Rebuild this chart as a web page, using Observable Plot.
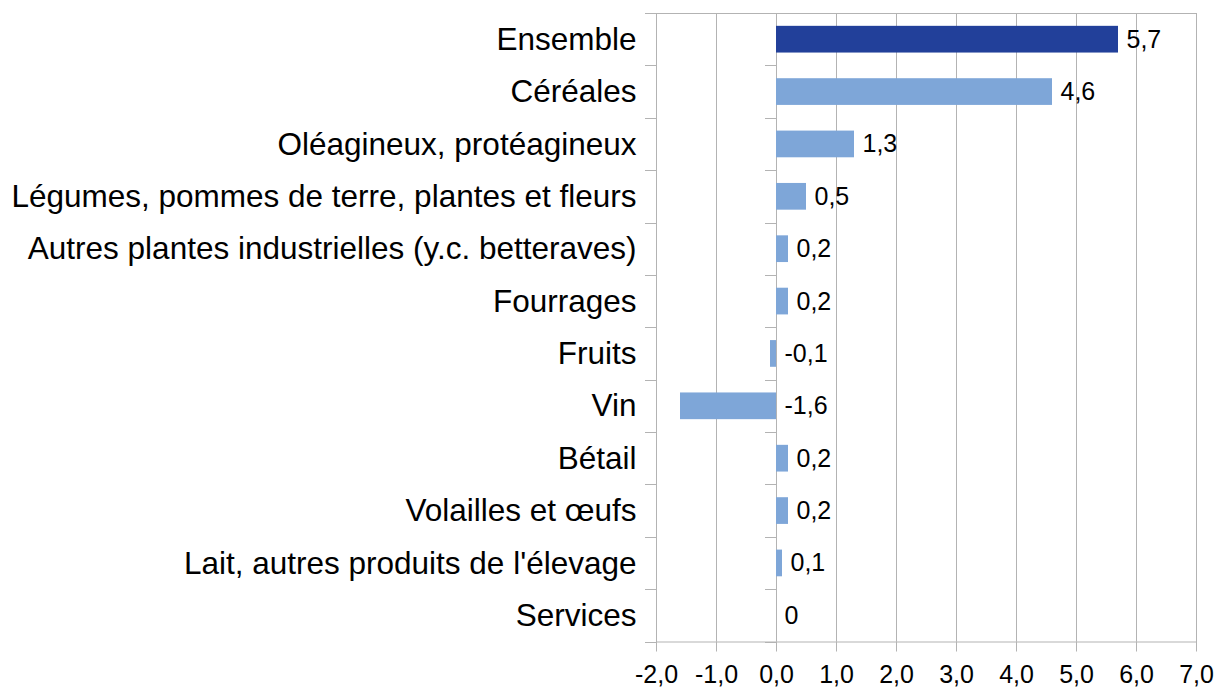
<!DOCTYPE html>
<html><head><meta charset="utf-8">
<script src="https://cdn.jsdelivr.net/npm/d3@7"></script>
<script src="https://cdn.jsdelivr.net/npm/@observablehq/plot@0.6"></script>
<style>body{margin:0;background:#fff} svg{display:block}</style>
</head><body><div id="chart"></div>
<script>
const categories = [
  "Ensemble",
  "Céréales",
  "Oléagineux, protéagineux",
  "Légumes, pommes de terre, plantes et fleurs",
  "Autres plantes industrielles (y.c. betteraves)",
  "Fourrages",
  "Fruits",
  "Vin",
  "Bétail",
  "Volailles et œufs",
  "Lait, autres produits de l'élevage",
  "Services"
];
const values = [5.7, 4.6, 1.3, 0.5, 0.2, 0.2, -0.1, -1.6, 0.2, 0.2, 0.1, 0];
const highlighted = ["Ensemble"];
const xTicks = [-2, -1, 0, 1, 2, 3, 4, 5, 6, 7];

const data = categories.map((c, i) => ({category: c, value: values[i]}));
const valueFmt = v => v === 0 ? "0" : v.toFixed(1).replace(".", ",");
const tickFmt = v => v.toFixed(1).replace(".", ",");
const grid = "#b3b3b3";

const chart = Plot.plot({
  width: 1215, height: 688,
  marginLeft: 656, marginRight: 19, marginTop: 13, marginBottom: 46.5,
  style: {fontFamily: "'Liberation Sans', Arial, sans-serif", background: "#fff", color: "#000"},
  x: {domain: [-2, 7], label: null},
  y: {domain: categories, paddingInner: 0.49, paddingOuter: 0.245, round: false, label: null},
  marks: [
    Plot.gridX(xTicks, {stroke: grid, strokeOpacity: 1}),
    Plot.frame({stroke: grid}),
    Plot.barX(data.filter(d => !highlighted.includes(d.category)), {x: "value", y: "category", fill: "#7ea6d8"}),
    Plot.barX(data.filter(d => highlighted.includes(d.category)), {x: "value", y: "category", fill: "#22409a"}),
    Plot.text(data, {x: d => Math.max(d.value, 0), y: "category", text: d => valueFmt(d.value), dx: 8, textAnchor: "start", fontSize: 25, fill: "#000"}),
    Plot.axisX({ticks: xTicks, tickFormat: tickFmt, tickSize: 10, tickPadding: 13, fontSize: 25, stroke: grid, strokeOpacity: 1, fill: "#000", label: null}),
    Plot.axisY({tickSize: 0, tickPadding: 20, fontSize: 31.5, fill: "#000", label: null})
  ]
});
document.getElementById("chart").appendChild(chart);

// category boundary tick marks, computed from Plot's scales
const ys = chart.scale("y"), xs = chart.scale("x");
const centers = categories.map(c => ys.apply(c) + ys.bandwidth / 2);
const step = centers.length > 1 ? centers[1] - centers[0] : ys.step;
const bounds = [centers[0] - step / 2, ...centers.map(c => c + step / 2)];
const g = d3.select(chart).append("g").attr("stroke", grid).attr("stroke-width", 1);
for (const xv of [-2, 0]) {
  const px = xs.apply(xv);
  for (const b of bounds) {
    g.append("line").attr("x1", px - 11).attr("x2", px).attr("y1", Math.round(b) + 0.5).attr("y2", Math.round(b) + 0.5);
  }
}
</script>
</body></html>
